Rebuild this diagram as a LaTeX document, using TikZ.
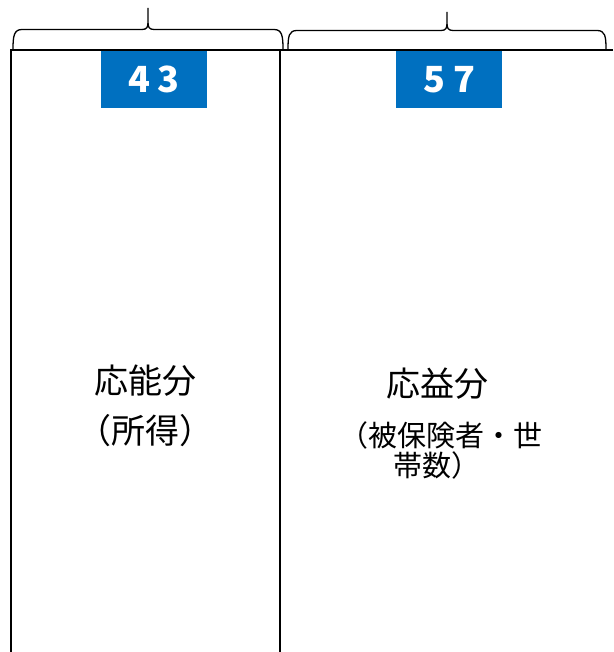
\documentclass[tikz,border=0pt]{standalone}
\usepackage{fontspec}
\setmainfont{Noto Sans CJK JP}
\definecolor{waku}{HTML}{0070C0}
\begin{document}
\begin{tikzpicture}[x=1pt,y=-1pt]
        \useasboundingbox (0,0) rectangle (613,652);

        % frame
        \draw[line width=2.8pt] (613,50) -- (11,50) -- (11,652);
        \draw[line width=2.6pt] (280,50) -- (280,652);

        % braces
        \draw[line width=1.3pt] (13,49) .. controls (13,36) and (14,29.5) .. (22,29.5) -- (142,29.5)
              .. controls (147,29.5) and (148,27) .. (148,22) -- (148,8) -- (148,22)
              .. controls (148,27) and (149,29.5) .. (154,29.5) -- (274,29.5)
              .. controls (282,29.5) and (283,36) .. (283,49);
        \draw[line width=1.3pt] (288,49) .. controls (288,36) and (289,30.5) .. (297,30.5) -- (441,30.5)
              .. controls (446,30.5) and (447,28) .. (447,23) -- (447,12) -- (447,23)
              .. controls (447,28) and (448,30.5) .. (453,30.5) -- (597,30.5)
              .. controls (605,30.5) and (606,36) .. (606,49);

        % ratios
        \node[fill=waku,minimum width=106pt,minimum height=57pt,inner sep=0pt,text=white,font=\fontsize{36}{36}\selectfont\bfseries] (N43) at (154,79.5) {4\hspace{8pt}3};
        \node[fill=waku,minimum width=106pt,minimum height=57pt,inner sep=0pt,text=white,font=\fontsize{36}{36}\selectfont\bfseries] (N57) at (449,79.5) {5\hspace{8pt}7};

        % labels
        \node[inner sep=0pt,font=\fontsize{34}{34}\selectfont] (Noryoku) at (145,381) {応能分};
        \node[inner sep=0pt,font=\fontsize{34}{34}\selectfont] (Shotoku) at (145,431) {（所得）};
        \node[inner sep=0pt,font=\fontsize{34}{34}\selectfont] (Oeki)    at (437,384) {応益分};
        \node[inner sep=0pt,font=\fontsize{29}{29}\selectfont] (Hihoken) at (441,435) {（被保険者・世};
        \node[inner sep=0pt,font=\fontsize{29}{29}\selectfont] (Setai)   at (437,465) {帯数）};
      \end{tikzpicture}
\end{document}
